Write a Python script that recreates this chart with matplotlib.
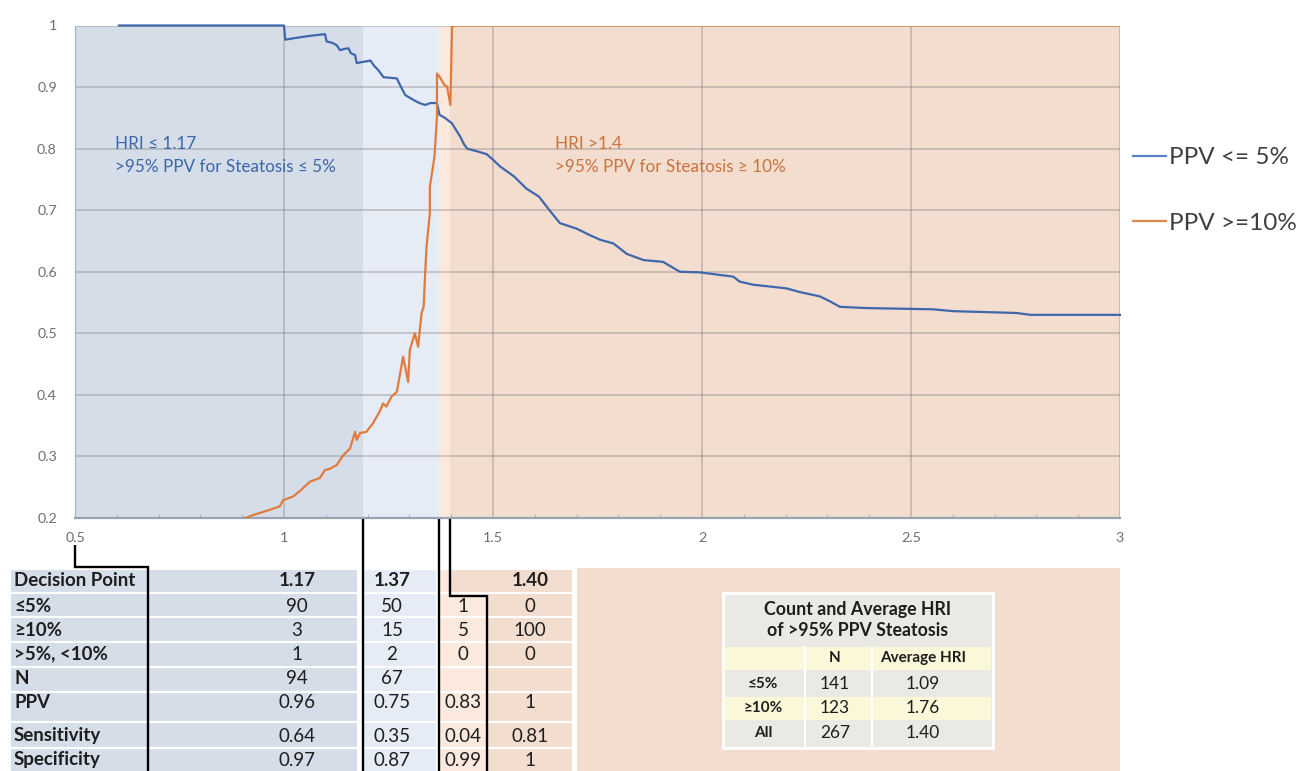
import matplotlib
matplotlib.use('Agg')
import matplotlib.pyplot as plt
from matplotlib.patches import Rectangle
from matplotlib.lines import Line2D

plt.rcParams['font.family'] = ['Lato', 'DejaVu Sans']

# PPV curve for steatosis <= 5%
hri_low = [0.605, 1.0, 1.003, 1.03, 1.06, 1.098, 1.102, 1.115, 1.126, 1.134, 1.145, 1.154,
           1.16, 1.17, 1.174, 1.19, 1.207, 1.215, 1.225, 1.238, 1.255, 1.27, 1.28, 1.29,
           1.305, 1.318, 1.328, 1.338, 1.35, 1.366, 1.372, 1.385, 1.402, 1.41, 1.422, 1.43,
           1.438, 1.46, 1.485, 1.50, 1.517, 1.55, 1.58, 1.61, 1.635, 1.66, 1.70, 1.73,
           1.756, 1.788, 1.82, 1.86, 1.907, 1.947, 1.995, 2.075, 2.09, 2.122, 2.202, 2.234,
           2.282, 2.306, 2.33, 2.394, 2.553, 2.60, 2.753, 2.785, 3.0]
ppv_low = [1.0, 1.0, 0.977, 0.98, 0.983, 0.986, 0.974, 0.972, 0.968, 0.960, 0.962, 0.963,
           0.955, 0.952, 0.939, 0.941, 0.943, 0.935, 0.928, 0.916, 0.915, 0.914, 0.900, 0.887,
           0.881, 0.876, 0.873, 0.871, 0.874, 0.874, 0.855, 0.850, 0.841, 0.832, 0.819, 0.808,
           0.800, 0.796, 0.791, 0.782, 0.771, 0.755, 0.735, 0.722, 0.700, 0.679, 0.670, 0.660,
           0.652, 0.646, 0.629, 0.619, 0.616, 0.600, 0.599, 0.592, 0.584, 0.579, 0.573, 0.567,
           0.560, 0.552, 0.543, 0.541, 0.539, 0.536, 0.533, 0.530, 0.530]

# PPV curve for steatosis >= 10%
hri_high = [0.907, 0.927, 0.96, 0.99, 0.998, 1.022, 1.04, 1.062, 1.086, 1.098, 1.11, 1.126,
            1.142, 1.158, 1.170, 1.174, 1.182, 1.197, 1.213, 1.229, 1.237, 1.245, 1.257, 1.270,
            1.285, 1.297, 1.301, 1.313, 1.321, 1.329, 1.334, 1.337, 1.341, 1.349, 1.349, 1.36,
            1.366, 1.366, 1.372, 1.384, 1.39, 1.398, 1.402, 1.41, 3.0]
ppv_high = [0.2, 0.205, 0.212, 0.219, 0.229, 0.235, 0.245, 0.259, 0.265, 0.278, 0.280, 0.286,
            0.302, 0.313, 0.340, 0.327, 0.338, 0.340, 0.354, 0.373, 0.386, 0.381, 0.397, 0.405,
            0.462, 0.421, 0.473, 0.500, 0.478, 0.533, 0.543, 0.587, 0.641, 0.695, 0.738, 0.787,
            0.852, 0.922, 0.917, 0.903, 0.901, 0.871, 0.998, 1.0, 1.0]

zone_edges = [0.5, 1.19, 1.372, 1.396, 3.0]
zone_colors = ['#d5dde9', '#e6ecf6', '#fce9de', '#f3ddcf']

x_ticks = [0.5, 1, 1.5, 2, 2.5, 3]
x_tick_labels = ['0.5', '1', '1.5', '2', '2.5', '3']
y_ticks = [0.2, 0.3, 0.4, 0.5, 0.6, 0.7, 0.8, 0.9, 1.0]
y_tick_labels = ['0.2', '0.3', '0.4', '0.5', '0.6', '0.7', '0.8', '0.9', '1']

# decision point table
row_labels = ['Decision Point', '≤5%', '≥10%', '>5%, <10%', 'N', 'PPV', 'Sensitivity', 'Specificity']
col_117 = ['1.17', '90', '3', '1', '94', '0.96', '0.64', '0.97']
col_137 = ['1.37', '50', '15', '2', '67', '0.75', '0.35', '0.87']
col_mid = ['', '1', '5', '0', '', '0.83', '0.04', '0.99']
col_140 = ['1.40', '0', '100', '0', '', '1', '0.81', '1']

# summary table
summary_title = ['Count and Average HRI', 'of >95% PPV Steatosis']
summary_head = ['', 'N', 'Average HRI']
summary_rows = ['≤5%', '≥10%', 'All']
summary_n = ['141', '123', '267']
summary_avg = ['1.09', '1.76', '1.40']

W, H = 1312, 771
BLUE = '#3f67ab'
ORANGE = '#e07b3c'
TXT = '#1e1e1e'

fig = plt.figure(figsize=(W / 100, H / 100), dpi=100)
fig.patch.set_facecolor('white')

ax = fig.add_axes([75 / W, 1 - 518 / H, (1120 - 75) / W, (518 - 25.5) / H])
ax.set_xlim(0.5, 3.0)
ax.set_ylim(0.2, 1.0)
ax.set_facecolor('white')

for i in range(len(zone_colors)):
    ax.axvspan(zone_edges[i], zone_edges[i + 1], color=zone_colors[i], zorder=0.2, lw=0)

ax.plot(hri_low, ppv_low, color=BLUE, lw=1.6, zorder=3, clip_on=False)
ax.plot(hri_high, ppv_high, color=ORANGE, lw=1.6, zorder=3)

ax.set_xticks(x_ticks)
ax.set_xticklabels(x_tick_labels)
ax.set_xticks([0.5 + 0.1 * k for k in range(26)], minor=True)
ax.set_yticks(y_ticks)
ax.set_yticklabels(y_tick_labels)
ax.set_axisbelow(True)
ax.grid(True, which='major', color='#7a7a7a', alpha=0.4, lw=1.2)
ax.tick_params(axis='both', which='major', length=0, labelsize=10.3, labelcolor='#6e6e6e')
ax.tick_params(axis='x', which='major', pad=10)
ax.tick_params(axis='y', which='major', pad=13)
ax.tick_params(axis='x', which='minor', direction='in', length=3, color='#9aa3b0')
for s in ['top', 'right']:
    ax.spines[s].set_visible(False)
ax.spines['left'].set_color('#a8b0bc')
ax.spines['bottom'].set_color('#98a2b0')
ax.spines['bottom'].set_linewidth(1.6)

ann = dict(fontsize=12.3, va='center')
ax.text(0.596, 0.807, 'HRI ≤ 1.17', color='#3d66a8', **ann)
ax.text(0.596, 0.770, '>95% PPV for Steatosis ≤ 5%', color='#3d66a8', **ann)
ax.text(1.648, 0.807, 'HRI >1.4', color='#c9733e', **ann)
ax.text(1.648, 0.770, '>95% PPV for Steatosis ≥ 10%', color='#c9733e', **ann)

handles = [Line2D([], [], color='#5b82c4', lw=1.6), Line2D([], [], color='#e08a4d', lw=1.6)]
fig.legend(handles, ['PPV <= 5%', 'PPV >=10%'], loc='upper left',
           bbox_to_anchor=(1133 / W, 1 - 147 / H), frameon=False, fontsize=17.5,
           handlelength=1.36, handletextpad=0.13, labelspacing=1.84,
           borderpad=0, borderaxespad=0, labelcolor='#404040')

# overlay in pixel coordinates for the tables and connector lines
tax = fig.add_axes([0, 0, 1, 1])
tax.set_xlim(0, W)
tax.set_ylim(H, 0)
tax.axis('off')
tax.patch.set_alpha(0)


def px_of(x):
    return ax.transData.transform((x, 0.2))[0]


def rect(x0, y0, x1, y1, fc, ec='white', lw=1.5, z=1):
    tax.add_patch(Rectangle((x0, y0), x1 - x0, y1 - y0, facecolor=fc, edgecolor=ec, lw=lw, zorder=z))


row_bounds = [569, 593, 617, 642, 667, 692, 722, 748, 773]
row_text_y = [581, 606, 630, 654, 679, 703, 736, 760]

x_b1, x_b2, x_b3 = px_of(zone_edges[1]), px_of(zone_edges[2]), px_of(zone_edges[3])
col_dark = (10, 358)
col_split = 148
col_light = (x_b1, x_b2 - 2)
col_mid_x = (x_b2, 487)
col_last = (487, 573)

# big orange panel to the right
rect(577, 568, 1120, 773, zone_colors[3], ec='none', lw=0)

fs = 13.5
for r in range(len(row_labels)):
    y0, y1 = row_bounds[r], row_bounds[r + 1]
    rect(col_dark[0], y0, col_dark[1], y1, zone_colors[0])
    rect(col_light[0], y0, col_light[1], y1, zone_colors[1])
    if r == 0:
        rect(col_mid_x[0], y0, x_b3, y1, zone_colors[2])
        rect(x_b3, y0, col_last[1], y1, zone_colors[3])
    else:
        rect(col_mid_x[0], y0, col_mid_x[1], y1, zone_colors[2])
        rect(col_last[0], y0, col_last[1], y1, zone_colors[3])
    w = 'bold' if r == 0 else 'normal'
    ty = row_text_y[r]
    tax.text(14, ty, row_labels[r], fontsize=fs, fontweight='bold', va='center', ha='left', color=TXT, zorder=5)
    tax.text(297, ty, col_117[r], fontsize=fs, fontweight=w, va='center', ha='center', color=TXT, zorder=5)
    tax.text(392, ty, col_137[r], fontsize=fs, fontweight=w, va='center', ha='center', color=TXT, zorder=5)
    tax.text(463, ty, col_mid[r], fontsize=fs, fontweight=w, va='center', ha='center', color=TXT, zorder=5)
    tax.text(530, ty, col_140[r], fontsize=fs, fontweight=w, va='center', ha='center', color=TXT, zorder=5)

# connector lines from the chart to the table
x_05 = px_of(0.5)
lk = dict(color='black', lw=1.7, zorder=6, solid_capstyle='butt', solid_joinstyle='miter')
tax.plot([x_05, x_05, col_split, col_split], [545, 567, 567, 773], **lk)
tax.plot([x_b1, x_b1], [519, 773], **lk)
tax.plot([x_b2, x_b2], [519, 773], **lk)
tax.plot([x_b3, x_b3, 487, 487], [519, 596, 596, 773], **lk)

# summary table
rect(723, 593, 993, 748, '#ebe9e4', ec='white', lw=2, z=2)
rect(725, 647, 991, 670, '#fbf7d9', ec='none', lw=0, z=2.1)
rect(725, 697, 991, 720, '#fbf7d9', ec='none', lw=0, z=2.1)
tax.plot([805, 805], [647, 746], color='white', lw=1.5, zorder=2.2)
tax.plot([872, 872], [647, 746], color='white', lw=1.5, zorder=2.2)
tax.text(858, 610, summary_title[0], fontsize=12.8, fontweight='bold', ha='center', va='center', color=TXT, zorder=5)
tax.text(858, 630, summary_title[1], fontsize=12.8, fontweight='bold', ha='center', va='center', color=TXT, zorder=5)
head_x = [763, 835, 923]
for j in range(3):
    tax.text(head_x[j], 658, summary_head[j], fontsize=11, fontweight='bold', ha='center', va='center', color=TXT, zorder=5)
sum_y = [684, 708, 733]
for r in range(3):
    tax.text(head_x[0], sum_y[r], summary_rows[r], fontsize=11, fontweight='bold', ha='center', va='center', color=TXT, zorder=5)
    tax.text(head_x[1], sum_y[r], summary_n[r], fontsize=12.5, ha='center', va='center', color=TXT, zorder=5)
    tax.text(head_x[2], sum_y[r], summary_avg[r], fontsize=12.5, ha='center', va='center', color=TXT, zorder=5)

fig.savefig('out.png', dpi=100)
